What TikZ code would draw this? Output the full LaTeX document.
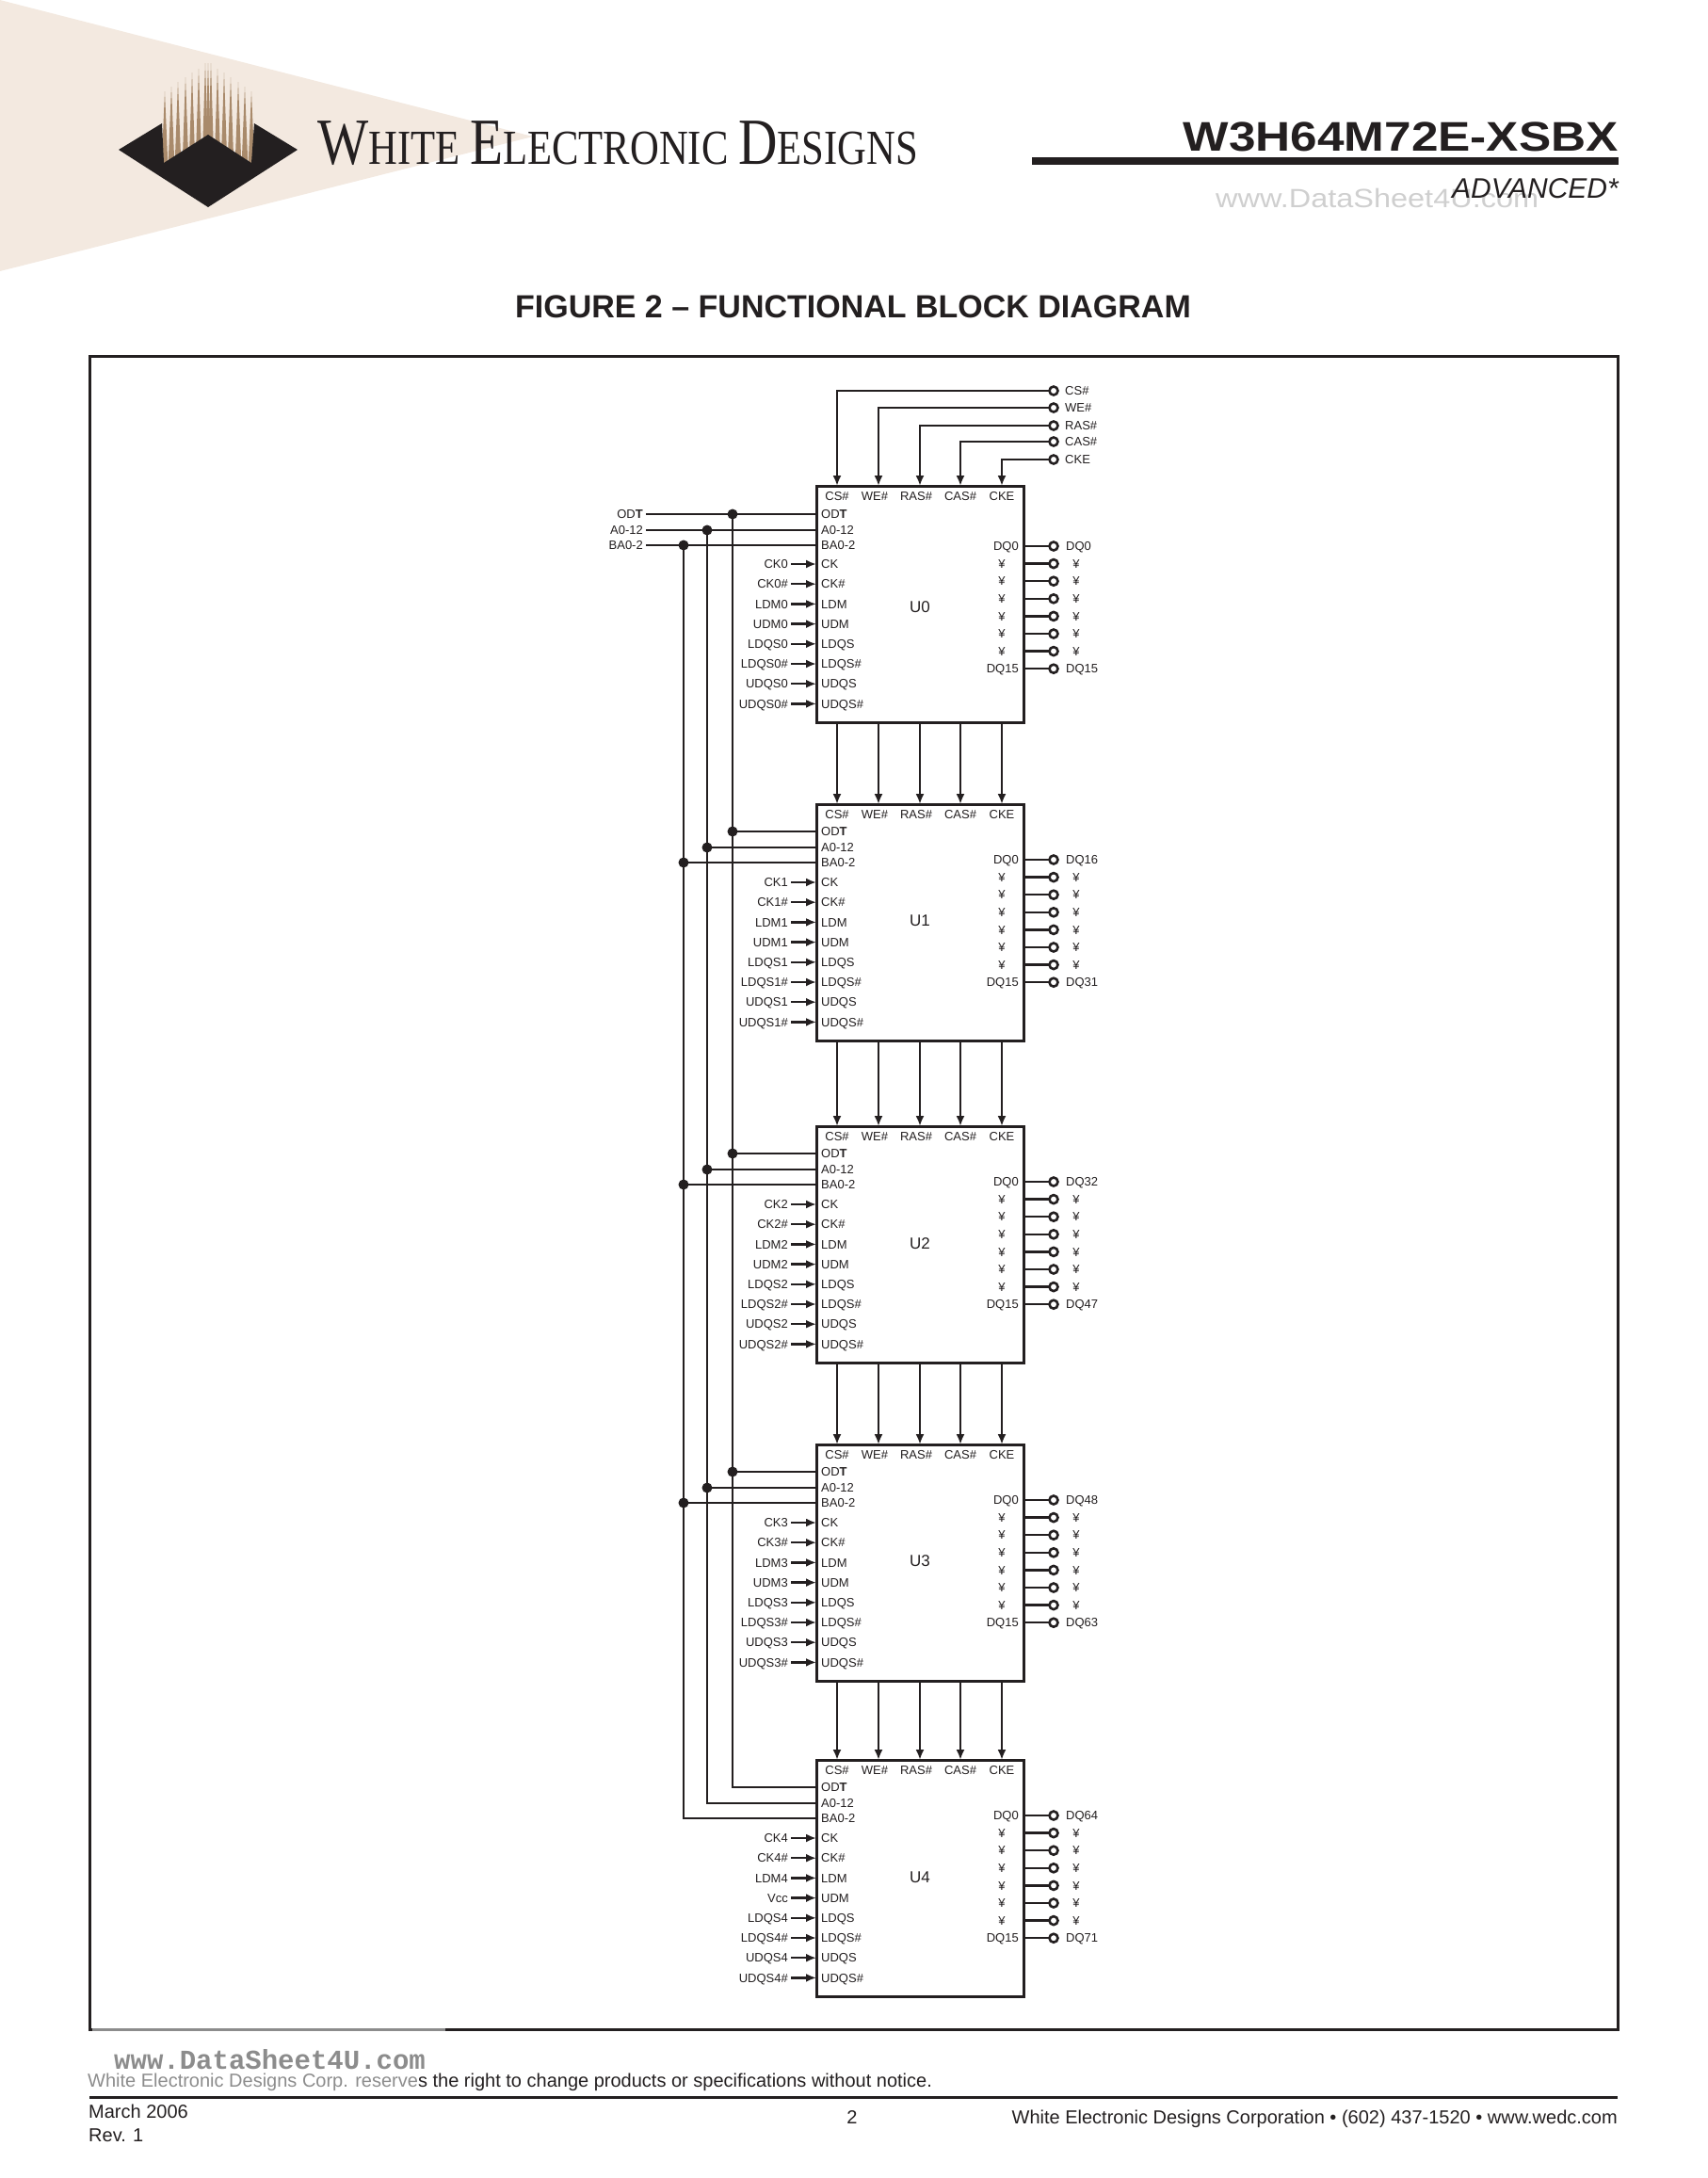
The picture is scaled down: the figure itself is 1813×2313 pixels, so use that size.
\documentclass[tikz,border=0pt]{standalone}
\usepackage{fontspec}
\setmainfont{Liberation Sans}
\newfontfamily\logofont{Liberation Serif}
\newfontfamily\markfont{Liberation Mono}
\usetikzlibrary{arrows.meta}
\definecolor{ink}{HTML}{231F20}
\definecolor{tint}{HTML}{F3E9E0}
\definecolor{reed}{HTML}{A98A6B}
\definecolor{wmgray}{HTML}{8C8C8C}
\definecolor{wmpale}{HTML}{CFCFCF}
\tikzset{
  wire/.style={draw=ink,line width=2.4pt},
  arrowwire/.style={wire,-{Latex[length=11pt,width=9pt]}},
  chipbox/.style={rectangle,draw=ink,line width=3pt,outer sep=0pt,minimum width=220pt,minimum height=251pt},
  pinlabel/.style={font=\fontsize{13}{15}\selectfont,text=ink,inner ysep=0pt,inner xsep=3pt,text height=9.5pt,text depth=0pt},
  inlabel/.style={pinlabel,anchor=west,inner xsep=5pt},
  outlabel/.style={pinlabel,anchor=east},
  dotnode/.style={circle,fill=ink,inner sep=0pt,minimum size=11pt},
  pad/.style={circle,draw=ink,fill=white,line width=2.6pt,inner sep=0pt,minimum size=9pt,outer sep=0pt},
  footnote/.style={font=\fontsize{20}{24}\selectfont,text=ink,inner sep=0pt}
}
\begin{document}
\begin{tikzpicture}[x=1pt,y=-1pt]
\useasboundingbox (0,0) rectangle (1813,2313);

% page header
\fill[tint] (0,0) -- (566,145) -- (0,288) -- cycle;
\foreach \dx/\tipy in {-46/97,-39/92,-32/87,-24/82,-17/77,-10/73,-3/67,0/67,3/67,10/73,17/77,24/82,32/87,39/92,46/97}{
  \fill[reed] (221+\dx-3.4,176) -- (221+\dx,\tipy) -- (221+\dx+3.4,176) -- cycle;
}
\fill[ink] (126,159) -- (172,131) -- (174,173) -- (221,143) -- (267,173) -- (270,131) -- (316,159) -- (221,220) -- cycle;
\node[anchor=base west,inner sep=0pt,text=ink] (logotext) at (337,174)
  {\scalebox{0.82}[1]{\logofont\fontsize{70}{70}\selectfont W\fontsize{52}{70}\selectfont HITE \fontsize{70}{70}\selectfont E\fontsize{52}{70}\selectfont LECTRONIC \fontsize{70}{70}\selectfont D\fontsize{52}{70}\selectfont ESIGNS}};
\fill[ink] (1096,167) rectangle (1719,175);
\node[anchor=base east,inner sep=0pt,text=ink] (partno) at (1719,160)
  {\scalebox{1.167}[1]{\fontsize{44}{44}\selectfont\bfseries W3H64M72E-XSBX}};
\node[anchor=base west,inner sep=0pt,text=wmpale] (webmark) at (1291,220)
  {\scalebox{1.16}[1]{\fontsize{28}{28}\selectfont www.DataSheet4U.com}};
\node[anchor=base east,inner sep=0pt,text=ink] (grade) at (1719,210)
  {\fontsize{30}{30}\selectfont\itshape ADVANCED*};
\node[text=ink,inner sep=0pt] (figtitle) at (906,326)
  {\fontsize{34}{34}\selectfont\bfseries FIGURE 2 -- FUNCTIONAL BLOCK DIAGRAM};

\draw[ink,line width=3pt] (95,378) rectangle (1718,2155);
\draw[wmgray,line width=3pt] (98,2155) -- (473,2155);

% control inputs of U0
\node[pad] (pcs) at (1119,415) {};
\node[pad] (pwe) at (1119,433) {};
\node[pad] (pras) at (1119,452) {};
\node[pad] (pcas) at (1119,469) {};
\node[pad] (pcke) at (1119,488) {};
\node[pinlabel,anchor=west] at (1128,415) {CS\#};
\node[pinlabel,anchor=west] at (1128,433) {WE\#};
\node[pinlabel,anchor=west] at (1128,452) {RAS\#};
\node[pinlabel,anchor=west] at (1128,469) {CAS\#};
\node[pinlabel,anchor=west] at (1128,488) {CKE};

% the five chips
\foreach \chipnum/\ytop/\dqoff/\nameoff/\rowodt/\rowa/\rowba/\udmsig/\dqfirst/\dqlast in {
    0/516/64/129/30/47/63/UDM0/DQ0/DQ15,
    1/854/59/124/29/46/62/UDM1/DQ16/DQ31,
    2/1196/59/125/29/46/62/UDM2/DQ32/DQ47,
    3/1534/59/124/29/46/62/UDM3/DQ48/DQ63,
    4/1869/59/125/29/46/62/Vcc/DQ64/DQ71}{
  \node[chipbox] (U\chipnum) at (977,\ytop+125.5) {};
  \node[font=\fontsize{17}{17}\selectfont,text=ink,inner sep=0pt] (name\chipnum) at (977,\ytop+\nameoff) {U\chipnum};
  \foreach \pinx/\tipx/\pintext [count=\c] in {889/889/CS\#,929/933/WE\#,973/977/RAS\#,1020/1020/CAS\#,1064/1064/CKE}{
    \node[pinlabel] (U\chipnum top\c) at (\pinx,\ytop+11) {\pintext};
    \coordinate (U\chipnum in\c) at (\tipx,\ytop);
    \coordinate (U\chipnum out\c) at (\tipx,\ytop+251);
  }
  \node[inlabel] (U\chipnum odt) at (867,\ytop+\rowodt) {OD\textbf{T}};
  \node[inlabel] (U\chipnum a) at (867,\ytop+\rowa) {A0-12};
  \node[inlabel] (U\chipnum ba) at (867,\ytop+\rowba) {BA0-2};
  \foreach \pintext/\sigtext [count=\r from 0] in {CK/CK\chipnum,CK\#/CK\chipnum\#,LDM/LDM\chipnum,UDM/\udmsig,LDQS/LDQS\chipnum,LDQS\#/LDQS\chipnum\#,UDQS/UDQS\chipnum,UDQS\#/UDQS\chipnum\#}{
    \node[inlabel] (U\chipnum p\r) at (867,\ytop+83+21.2*\r) {\pintext};
    \node[outlabel] (s\chipnum p\r) at (840,\ytop+83+21.2*\r) {\sigtext};
    \draw[arrowwire] (s\chipnum p\r.east) -- (U\chipnum p\r.west);
  }
  \foreach \r in {0,...,7}{
    \coordinate (U\chipnum r\r) at (1087,\ytop+\dqoff+18.6*\r);
    \node[pad] (q\chipnum r\r) at (1119,\ytop+\dqoff+18.6*\r) {};
    \draw[wire] (U\chipnum r\r) -- (q\chipnum r\r);
  }
  \foreach \r in {1,...,6}{
    \node[pinlabel] at (1064,\ytop+\dqoff+18.6*\r) {¥};
    \node[pinlabel] at (1143,\ytop+\dqoff+18.6*\r) {¥};
  }
  \node[outlabel] at (1085,\ytop+\dqoff) {DQ0};
  \node[outlabel] at (1085,\ytop+\dqoff+130.2) {DQ15};
  \node[pinlabel,anchor=west] at (1129,\ytop+\dqoff) {\dqfirst};
  \node[pinlabel,anchor=west] at (1129,\ytop+\dqoff+130.2) {\dqlast};
}

\draw[arrowwire] (pcs) -| (U0in1);
\draw[arrowwire] (pwe) -| (U0in2);
\draw[arrowwire] (pras) -| (U0in3);
\draw[arrowwire] (pcas) -| (U0in4);
\draw[arrowwire] (pcke) -| (U0in5);

\foreach \upper/\lower in {0/1,1/2,2/3,3/4}{
  \foreach \c in {1,...,5}{
    \draw[arrowwire] (U\upper out\c) -- (U\lower in\c);
  }
}

% shared buses
\node[outlabel] (lodt) at (686,546) {OD\textbf{T}};
\node[outlabel] (la) at (686,563) {A0-12};
\node[outlabel] (lba) at (686,579) {BA0-2};
\draw[wire] (lodt.east) -- (U0odt.west);
\draw[wire] (la.east) -- (U0a.west);
\draw[wire] (lba.east) -- (U0ba.west);
\foreach \chipnum in {0,...,3}{
  \node[dotnode] (dodt\chipnum) at (778,0 |- U\chipnum odt) {};
  \node[dotnode] (da\chipnum) at (751,0 |- U\chipnum a) {};
  \node[dotnode] (dba\chipnum) at (726,0 |- U\chipnum ba) {};
}
\foreach \chipnum in {1,2,3}{
  \draw[wire] (dodt\chipnum.center) -- (U\chipnum odt.west);
  \draw[wire] (da\chipnum.center) -- (U\chipnum a.west);
  \draw[wire] (dba\chipnum.center) -- (U\chipnum ba.west);
}
\draw[wire] (dodt0.center) |- (U4odt.west);
\draw[wire] (da0.center) |- (U4a.west);
\draw[wire] (dba0.center) |- (U4ba.west);

% page footer
\node[anchor=base west,inner sep=0pt,text=wmgray] (footmark) at (121,2197)
  {\fontsize{29}{29}\selectfont\markfont\bfseries www.DataSheet4U.com};
\node[footnote,anchor=base west] (notice) at (93,2216)
  {{\color{wmgray}White Electronic Designs Corp. reserve}s the right to change products or specifications without notice.};
\fill[ink] (95,2225.5) rectangle (1718,2228.5);
\node[footnote,anchor=base west] (date) at (94,2249) {March 2006};
\node[footnote,anchor=base west] (rev) at (94,2274) {Rev. 1};
\node[footnote,anchor=base] (pageno) at (905,2255) {2};
\node[footnote,anchor=base east] (company) at (1718,2255) {White Electronic Designs Corporation • (602) 437-1520 • www.wedc.com};
\end{tikzpicture}
\end{document}
